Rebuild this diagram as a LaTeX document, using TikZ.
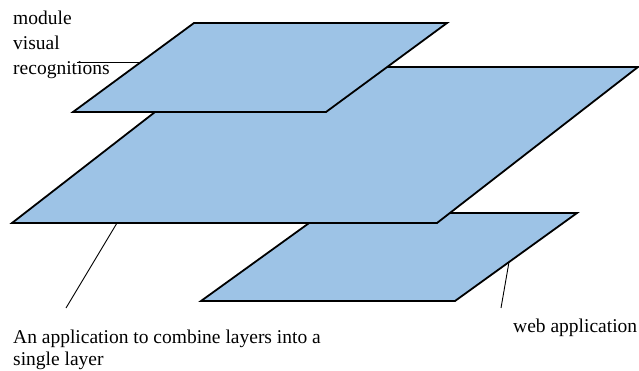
\documentclass[tikz,border=0pt]{standalone}
\usepackage{fontspec}
\setmainfont{Liberation Serif}
\definecolor{layerblue}{RGB}{157,195,230}
\tikzset{
  layer/.style={draw=black,fill=layerblue,line width=1.8pt,line join=miter},
  leader/.style={black,line width=0.9pt},
  caption/.style={font=\fontsize{19.5}{25}\selectfont,align=left,inner sep=0pt,anchor=north west}
}
\begin{document}
\begin{tikzpicture}[x=1pt,y=-1pt]
        \useasboundingbox (0,0) rectangle (639,371);
        % layers, from the bottom one up
        \draw [layer] (201,301) -- (455,301) -- (577,213) -- (323,213) -- cycle;
        \draw [layer] (12,223) -- (437,223) -- (638,67) -- (213,67) -- cycle;
        \draw [layer] (73,112) -- (326,112) -- (447,23) -- (194,23) -- cycle;
        % labels
        \node [caption] (vision) at (13,11) {module\\visual\\recognitions};
        \node [caption,font=\fontsize{19.5}{22}\selectfont] (merge) at (13,330) {An application to combine layers into a\\single layer};
        \node [caption] (webapp) at (513,319) {web application};
        % leaders
        \coordinate (visionfoot) at (141,62);
        \coordinate (visionend) at (77,62);
        \coordinate (mergefoot) at (117,223);
        \coordinate (mergeend) at (66,308);
        \coordinate (webfoot) at (509,262);
        \coordinate (webend) at (501,308);
        \draw [leader] (visionfoot) -- (visionend);
        \draw [leader] (mergefoot) -- (mergeend);
        \draw [leader] (webfoot) -- (webend);
    \end{tikzpicture}
\end{document}
